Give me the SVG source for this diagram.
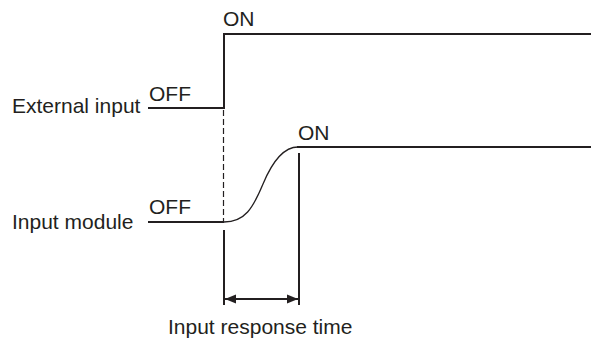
<svg xmlns="http://www.w3.org/2000/svg" width="591" height="340" viewBox="0 0 591 340">
<style>
text{font-family:"Liberation Sans",Arial,sans-serif;font-size:21px;fill:#231f20}
.sig{fill:none;stroke:#231f20;stroke-width:2}
.thin{fill:none;stroke:#231f20;stroke-width:1.3}
.dash{fill:none;stroke:#231f20;stroke-width:1.2;stroke-dasharray:6,3}
</style>
<defs>
<marker id="ah" viewBox="0 0 10 10" refX="10" refY="5" markerWidth="11" markerHeight="11" markerUnits="userSpaceOnUse" orient="auto-start-reverse">
<path d="M0,1 L10,5 L0,9 Z" fill="#231f20"/>
</marker>
</defs>
<g id="external-input">
<text x="12" y="113">External input</text>
<text x="149" y="101">OFF</text>
<text x="223" y="26">ON</text>
<path class="sig" d="M148,108 H224 V34 H591"/>
</g>
<g id="input-module">
<text x="12" y="229">Input module</text>
<text x="149" y="214">OFF</text>
<text x="298" y="140">ON</text>
<path class="sig" d="M148,222 H224"/>
<path class="thin" d="M224,222 C245,222 253,208 263,184 C273,160 284,147 298,147"/>
<path class="sig" d="M297,147 H591"/>
</g>
<g id="connectors">
<path class="dash" d="M223.5,110 V222"/>
<path class="sig" d="M224,230 V305 M299,153 V305"/>
<path class="sig" d="M225,299 H298" marker-start="url(#ah)" marker-end="url(#ah)"/>
</g>
<g id="label">
<text x="168" y="334">Input response time</text>
</g>
</svg>
